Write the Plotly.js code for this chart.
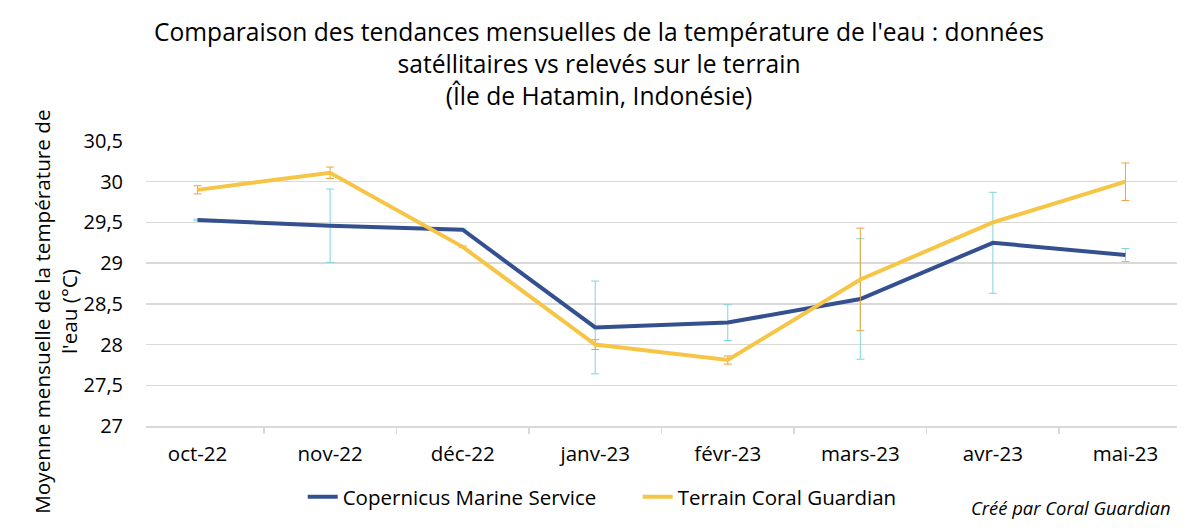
<!DOCTYPE html>
<html>
<head>
<meta charset="utf-8">
<script src="https://cdn.plot.ly/plotly-3.0.1.min.js"></script>
<style>html,body{margin:0;padding:0;background:#fff;}#chart{width:1198px;height:530px;}</style>
</head>
<body>
<div id="chart"></div>
<script>
const months = ["oct-22","nov-22","déc-22","janv-23","févr-23","mars-23","avr-23","mai-23"];
const copernicus = [29.53, 29.46, 29.41, 28.21, 28.27, 28.56, 29.25, 29.10];
const copernicusErr = [0.01, 0.45, 0.01, 0.57, 0.22, 0.74, 0.62, 0.08];
const terrain = [29.90, 30.11, 29.20, 28.00, 27.81, 28.80, 29.50, 30.00];
const terrainErr = [0.05, 0.07, 0.01, 0.06, 0.05, 0.63, 0.00, 0.23];
const yTicks = [27, 27.5, 28, 28.5, 29, 29.5, 30, 30.5];
const yTickText = ["27","27,5","28","28,5","29","29,5","30","30,5"];

const FONT = "'Open Sans', Lato, sans-serif";

const traces = [
  {
    x: months, y: copernicus, type: "scatter", mode: "lines",
    name: "Copernicus Marine Service",
    line: {color: "#34508f", width: 4},
    error_y: {type: "data", array: copernicusErr, visible: true, color: "#7fd6d6", thickness: 1, width: 4}
  },
  {
    x: months, y: terrain, type: "scatter", mode: "lines",
    name: "Terrain Coral Guardian",
    line: {color: "#f7c545", width: 4},
    error_y: {type: "data", array: terrainErr, visible: true, color: "#eba43a", thickness: 1, width: 4}
  }
];

const layout = {
  width: 1198, height: 530,
  margin: {l: 146, r: 21, t: 141, b: 104},
  paper_bgcolor: "#ffffff", plot_bgcolor: "#ffffff",
  font: {family: FONT, color: "#000000", size: 20},
  title: {
    text: "Comparaison des tendances mensuelles de la température de l'eau : données<br>satéllitaires vs relevés sur le terrain<br>(Île de Hatamin, Indonésie)",
    font: {family: FONT, size: 24.6, color: "#000000"},
    x: 0.5, xanchor: "center", xref: "container", yref: "container", y: 0.922, yanchor: "top"
  },
  xaxis: {
    type: "category",
    tickson: "boundaries",
    ticks: "outside", ticklen: 6, tickcolor: "#d9d9d9", tickwidth: 1.5,
    showline: true, linecolor: "#d9d9d9", linewidth: 1.5,
    showgrid: false, zeroline: false,
    ticklabelstandoff: 9,
    tickfont: {family: FONT, size: 20.5, color: "#000000"}
  },
  yaxis: {
    range: [27, 30.5],
    tickvals: yTicks, ticktext: yTickText,
    showgrid: true, gridcolor: "#d9d9d9", gridwidth: 1.5,
    zeroline: false, showline: false, ticks: "",
    ticklabelstandoff: 22,
    tickfont: {family: FONT, size: 20, color: "#000000"}
  },
  showlegend: true,
  legend: {
    orientation: "h", x: 0.152, y: -0.249, xanchor: "left", yanchor: "middle",
    font: {family: FONT, size: 20.5, color: "#000000"},
    itemwidth: 30, tracegroupgap: 0, bgcolor: "rgba(0,0,0,0)",
    entrywidth: 290, entrywidthmode: "pixels"
  },
  annotations: [
    {
      text: "Moyenne mensuelle de la température de<br>l'eau (°C)",
      xref: "paper", yref: "paper", x: -0.0885, y: 0.4,
      xanchor: "center", yanchor: "middle", textangle: -90, showarrow: false,
      font: {family: FONT, size: 20.7, color: "#000000"}
    },
    {
      text: "<i>Créé par Coral Guardian</i>",
      xref: "paper", yref: "paper", x: 0.996, y: -0.287,
      xanchor: "right", yanchor: "middle", showarrow: false,
      font: {family: FONT, size: 18.4, color: "#000000"}
    }
  ]
};

Plotly.newPlot("chart", traces, layout, {displayModeBar: false, staticPlot: true});
</script>
</body>
</html>
